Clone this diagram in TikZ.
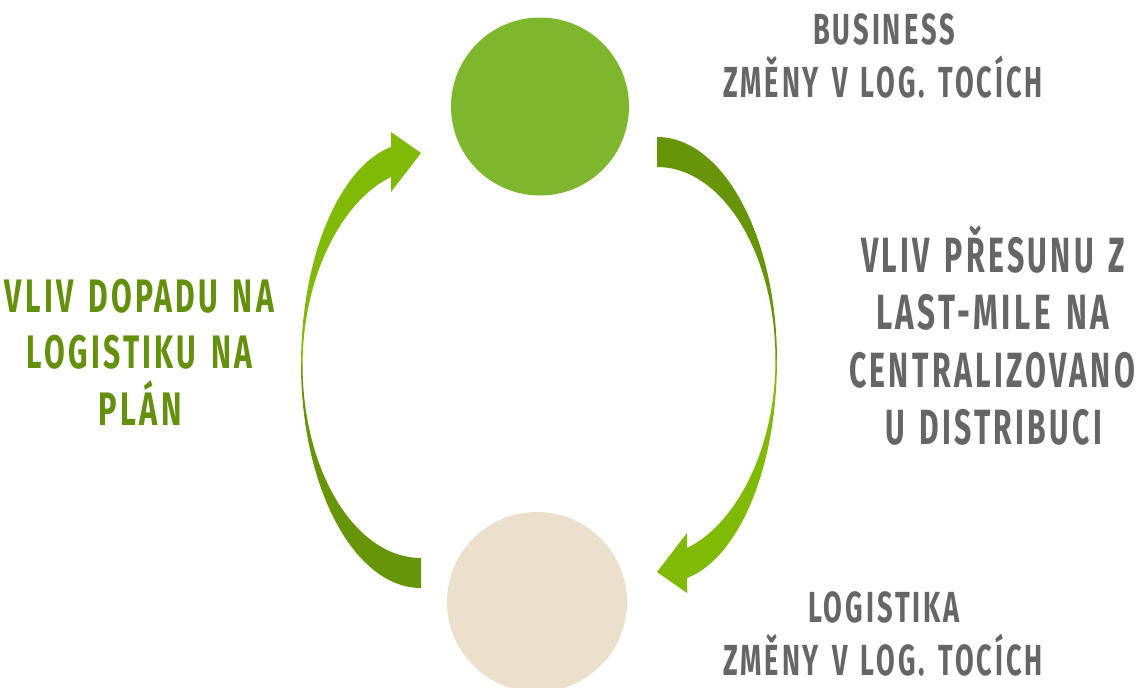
\documentclass[tikz,border=0pt]{standalone}
\usepackage{fontspec}
\usepackage{graphicx}
\newfontfamily\labfont{Fira Sans Bold}[LetterSpace=11, WordSpace=1.4]
\newcommand\fitw[2]{\resizebox{#1pt}{\height}{#2}}
\definecolor{circgreen}{RGB}{126,183,45}
\definecolor{circbeige}{RGB}{234,224,203}
\definecolor{arrdark}{RGB}{102,150,8}
\definecolor{arrlight}{RGB}{128,186,6}
\definecolor{txtgreen}{RGB}{100,144,14}
\definecolor{txtgray}{RGB}{102,102,102}
\tikzset{
  bigdisc/.style={circle, inner sep=0pt, draw=none},
  smalllab/.style={text=txtgray, anchor=base, inner sep=0pt, font=\labfont\fontsize{43.5}{50}\selectfont},
  graylab/.style={text=txtgray, anchor=base, inner sep=0pt, font=\labfont\fontsize{49.5}{55}\selectfont},
  greenlab/.style={text=txtgreen, anchor=base, inner sep=0pt, font=\labfont\fontsize{47}{55}\selectfont},
}
\begin{document}
\begin{tikzpicture}[x=1pt,y=-1pt]
\useasboundingbox (0,0) rectangle (1138,688);
% circles
\node[bigdisc, fill=circgreen, minimum size=178pt] (biz) at (540,106.5) {};
\node[bigdisc, fill=circbeige, minimum size=180pt] (logi) at (537,602) {};
% right arrow (tail dark at top, head light at bottom)
\fill[arrdark] (657,137) .. controls (723.3,137) and (777,236.8) .. (777,361)
  -- (775.5,361) .. controls (775.5,253.4) and (722.4,167) .. (657,167) -- cycle;
\fill[arrlight] (777,359) .. controls (777,475) and (735,560) .. (687,578)
  -- (687,593) -- (657,572) -- (687,533) -- (687,548)
  .. controls (735,525) and (775.5,450) .. (775.5,359) -- cycle;
% left arrow (rotated copy)
\begin{scope}[rotate around={180:(539,362.5)}]
\fill[arrdark] (657,137) .. controls (723.3,137) and (777,236.8) .. (777,361)
  -- (775.5,361) .. controls (775.5,253.4) and (722.4,167) .. (657,167) -- cycle;
\fill[arrlight] (777,359) .. controls (777,475) and (735,560) .. (687,578)
  -- (687,593) -- (657,572) -- (687,533) -- (687,548)
  .. controls (735,525) and (775.5,450) .. (775.5,359) -- cycle;
\end{scope}
% top right label
\node[smalllab] (b1) at (884,44) {\fitw{142}{BUSINESS}};
\node[smalllab] (b2) at (883,97) {\fitw{320}{ZMĚNY V LOG. TOCÍCH}};
% bottom right label
\node[smalllab] (l1) at (884,622) {\fitw{152}{LOGISTIKA}};
\node[smalllab] (l2) at (883,675) {\fitw{320}{ZMĚNY V LOG. TOCÍCH}};
% right middle label
\node[graylab] (r1) at (993,272) {\fitw{264}{VLIV PŘESUNU Z}};
\node[graylab] (r2) at (992.5,329.5) {\fitw{233}{LAST-MILE NA}};
\node[graylab] (r3) at (992,387) {\fitw{286}{CENTRALIZOVANO}};
\node[graylab] (r4) at (993.5,444.5) {\fitw{217}{U DISTRIBUCI}};
% left label
\node[greenlab] (g1) at (139.5,312) {\fitw{269}{VLIV DOPADU NA}};
\node[greenlab] (g2) at (139.5,368.5) {\fitw{225}{LOGISTIKU NA}};
\node[greenlab] (g3) at (140,425) {\fitw{83}{PLÁN}};
\end{tikzpicture}
\end{document}
